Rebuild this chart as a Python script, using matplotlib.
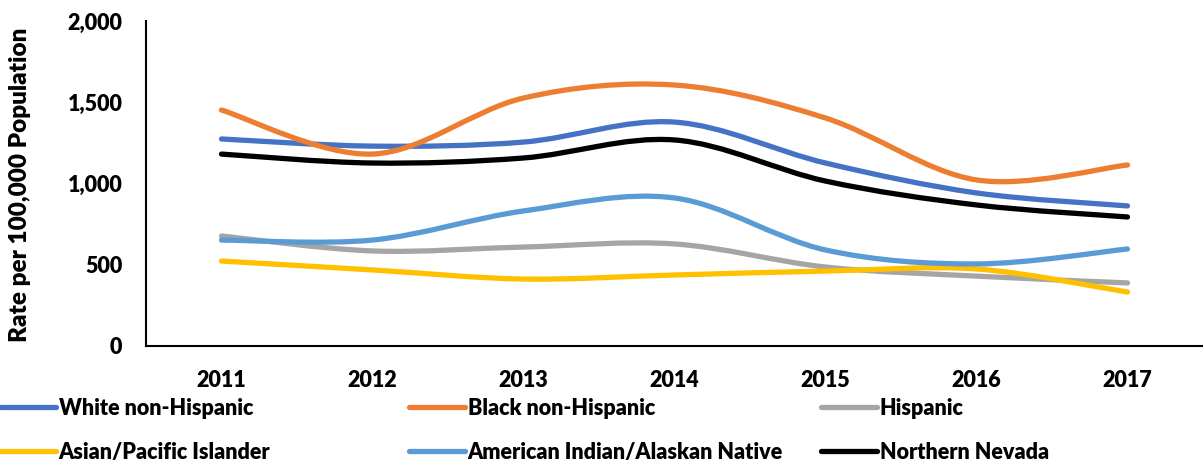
import matplotlib
matplotlib.use('Agg')
import numpy as np
from matplotlib import pyplot as plt
from matplotlib.path import Path
from matplotlib.patches import PathPatch
from matplotlib.lines import Line2D
from matplotlib.ticker import FuncFormatter

# Data
years = ['2011', '2012', '2013', '2014', '2015', '2016', '2017']
white_nh = [1274, 1230, 1255, 1378, 1126, 942, 862]
black_nh = [1452, 1181, 1526, 1606, 1403, 1022, 1114]
hispanic = [677, 585, 609, 628, 486, 430, 388]
asian_pi = [523, 468, 412, 437, 461, 474, 332]
aian = [652, 652, 831, 911, 591, 505, 597]
northern_nv = [1181, 1126, 1157, 1268, 1015, 868, 794]

series = [
    ('White non-Hispanic', white_nh, '#4472C4'),
    ('Black non-Hispanic', black_nh, '#ED7D31'),
    ('Hispanic', hispanic, '#A5A5A5'),
    ('Asian/Pacific Islander', asian_pi, '#FFC000'),
    ('American Indian/Alaskan Native', aian, '#5B9BD5'),
    ('Northern Nevada', northern_nv, '#000000'),
]

FONT = 'Lato'
WEIGHT = 'heavy'
LW = 3.8


def smooth_path(xs, ys):
    # Catmull-Rom style bezier, like Excel's smoothed line
    pts = np.column_stack([xs, ys]).astype(float)
    n = len(pts)
    verts = [pts[0]]
    codes = [Path.MOVETO]
    for i in range(n - 1):
        p0 = pts[max(i - 1, 0)]
        p1 = pts[i]
        p2 = pts[i + 1]
        p3 = pts[min(i + 2, n - 1)]
        c1 = p1 + (p2 - p0) / 6.0
        c2 = p2 - (p3 - p1) / 6.0
        verts += [c1, c2, p2]
        codes += [Path.CURVE4] * 3
    return Path(verts, codes)


fig = plt.figure(figsize=(12.03, 4.63), dpi=100)
ax = fig.add_axes([146 / 1203, 1 - 346 / 463, 1 - 146 / 1203, (346 - 21) / 463])

x = np.arange(len(years))
handles = []
for name, vals, color in series:
    patch = PathPatch(smooth_path(x, vals), facecolor='none', edgecolor=color,
                      lw=LW, capstyle='round', joinstyle='round')
    ax.add_patch(patch)
    handles.append(Line2D([], [], color=color, lw=LW, solid_capstyle='round', label=name))

ax.set_xlim(-0.5, len(years) - 0.5)
ax.set_ylim(0, 2000)
ax.set_xticks(x)
ax.set_xticklabels(years)
ax.set_yticks([0, 500, 1000, 1500, 2000])
ax.yaxis.set_major_formatter(FuncFormatter(lambda v, p: f'{int(v):,}'))
ax.tick_params(length=0, labelsize=15.5)
ax.tick_params(axis='x', pad=17)
ax.tick_params(axis='y', pad=17)
for lab in ax.get_xticklabels() + ax.get_yticklabels():
    lab.set_fontfamily(FONT)
    lab.set_fontweight(WEIGHT)

for side in ['top', 'right']:
    ax.spines[side].set_visible(False)
for side in ['left', 'bottom']:
    ax.spines[side].set_color('black')
    ax.spines[side].set_linewidth(1.5)

fig.text(20 / 1203, 1 - 185 / 463, 'Rate per 100,000 Population', rotation=90,
         ha='center', va='center', fontsize=17.5, fontweight=WEIGHT, fontfamily=FONT)

# Legend: three columns, two rows, placed like Excel's fixed-width layout
col_x = [0, 409, 821]
for c in range(3):
    leg = fig.legend(handles=[handles[c], handles[c + 3]], loc='upper left',
                     bbox_to_anchor=(col_x[c] / 1203, 1 - 398 / 463),
                     frameon=False, ncol=1, handlelength=2.6, handletextpad=0.12,
                     borderaxespad=0, borderpad=0, labelspacing=1.05,
                     prop={'family': FONT, 'weight': WEIGHT, 'size': 15.5})

fig.savefig('out.png', dpi=100)
